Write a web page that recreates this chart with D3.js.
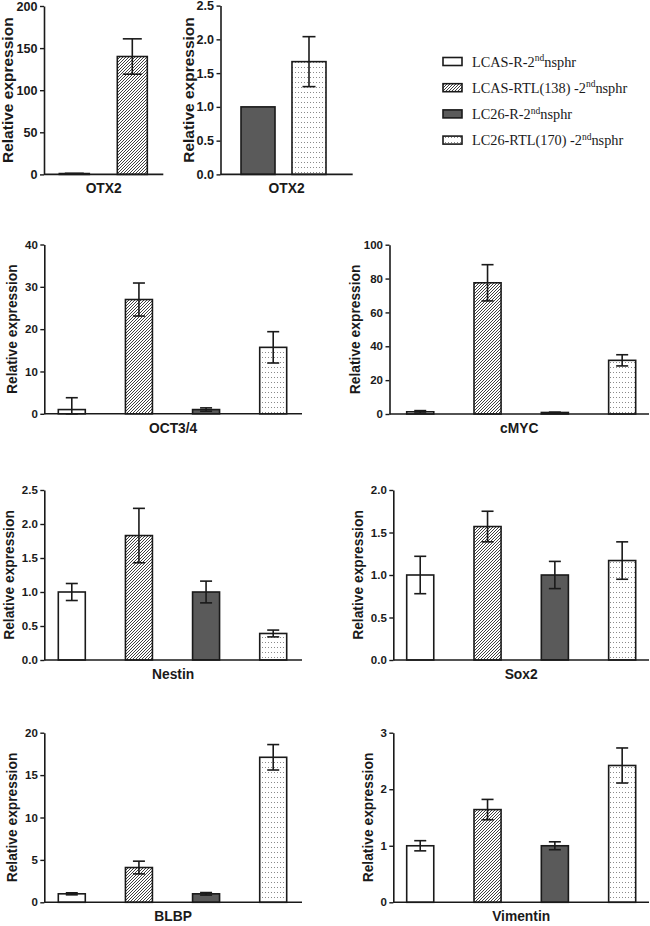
<!DOCTYPE html>
<html><head><meta charset="utf-8">
<script src="https://cdn.jsdelivr.net/npm/d3@7"></script>
<style>body{margin:0;background:#fff}svg{display:block}</style>
</head><body>
<script>
// ---- data ----
const groupPrefix = ["LCAS-R-2", "LCAS-RTL(138) -2", "LC26-R-2", "LC26-RTL(170) -2"];
const groupSup = "nd";
const groupSuffix = "nsphr";

const otx2AGroups = [0, 1];
const otx2AValues = [1.0, 140];
const otx2AErrors = [0.3, 21];

const otx2BGroups = [2, 3];
const otx2BValues = [1.0, 1.67];
const otx2BErrors = [0, 0.37];

const allGroups = [0, 1, 2, 3];
const oct34Values = [1.0, 27.0, 1.0, 15.7];
const oct34Errors = [2.8, 3.9, 0.4, 3.7];
const cmycValues = [1.3, 77.5, 0.9, 31.7];
const cmycErrors = [0.7, 10.7, 0.2, 3.3];
const nestinValues = [1.0, 1.83, 1.0, 0.39];
const nestinErrors = [0.125, 0.40, 0.16, 0.05];
const sox2Values = [1.0, 1.57, 1.0, 1.17];
const sox2Errors = [0.22, 0.18, 0.16, 0.22];
const blbpValues = [1.0, 4.1, 1.0, 17.1];
const blbpErrors = [0.12, 0.75, 0.15, 1.5];
const vimentinValues = [1.0, 1.64, 1.0, 2.42];
const vimentinErrors = [0.09, 0.18, 0.07, 0.31];

const otx2ATicks = [0, 50, 100, 150, 200];
const otx2BTicks = [0, 0.5, 1.0, 1.5, 2.0, 2.5];
const oct34Ticks = [0, 10, 20, 30, 40];
const cmycTicks = [0, 20, 40, 60, 80, 100];
const nestinTicks = [0, 0.5, 1.0, 1.5, 2.0, 2.5];
const sox2Ticks = [0, 0.5, 1.0, 1.5, 2.0];
const blbpTicks = [0, 5, 10, 15, 20];
const vimentinTicks = [0, 1, 2, 3];

// ---- layout ----
const panels = [
  {label:"OTX2", groups:otx2AGroups, values:otx2AValues, errors:otx2AErrors, ticks:otx2ATicks, fmt:"d",
   ax:44, axEnd:163.3, yb:174.4, yt:6, bx0:59.3, bx1:147.3, pad:0.483, cap:19, ylx:12.8, tickFs:12.6, ylFs:15.5},
  {label:"OTX2", groups:otx2BGroups, values:otx2BValues, errors:otx2BErrors, ticks:otx2BTicks, fmt:".1f",
   ax:220.5, axEnd:352.7, yb:174.4, yt:5.6, bx0:241, bx1:326, pad:0.333, cap:13, ylx:194.4, tickFs:12.6, ylFs:15.5},
  {label:"OCT3/4", groups:allGroups, values:oct34Values, errors:oct34Errors, ticks:oct34Ticks, fmt:"d",
   ax:44.3, axEnd:302, yb:413.8, yt:244.5, bx0:58.3, bx1:286.7, pad:0.598, cap:12, ylx:17.2, tickFs:11.5, ylFs:13.8},
  {label:"cMYC", groups:allGroups, values:cmycValues, errors:cmycErrors, ticks:cmycTicks, fmt:"d",
   ax:389.5, axEnd:649, yb:414, yt:244.7, bx0:406.7, bx1:635.7, pad:0.598, cap:12, ylx:360, tickFs:11.5, ylFs:13.8},
  {label:"Nestin", groups:allGroups, values:nestinValues, errors:nestinErrors, ticks:nestinTicks, fmt:".1f",
   ax:44.3, axEnd:302, yb:660, yt:490, bx0:58.3, bx1:286.7, pad:0.598, cap:12, ylx:14, tickFs:11.5, ylFs:13.8},
  {label:"Sox2", groups:allGroups, values:sox2Values, errors:sox2Errors, ticks:sox2Ticks, fmt:".1f",
   ax:393.3, axEnd:649, yb:660, yt:490, bx0:406.7, bx1:635.7, pad:0.598, cap:12, ylx:362.6, tickFs:11.5, ylFs:13.8},
  {label:"BLBP", groups:allGroups, values:blbpValues, errors:blbpErrors, ticks:blbpTicks, fmt:"d",
   ax:44.3, axEnd:302, yb:902.3, yt:732.7, bx0:58.3, bx1:286.7, pad:0.598, cap:12, ylx:17.2, tickFs:11.5, ylFs:13.8},
  {label:"Vimentin", groups:allGroups, values:vimentinValues, errors:vimentinErrors, ticks:vimentinTicks, fmt:"d",
   ax:393.3, axEnd:649, yb:902.3, yt:732.7, bx0:406.7, bx1:635.7, pad:0.598, cap:12, ylx:373, tickFs:11.5, ylFs:13.8}
];

const svg = d3.select("body").append("svg").attr("width", 650).attr("height", 926);
const defs = svg.append("defs");
const hatch = defs.append("pattern").attr("id", "hatch").attr("patternUnits", "userSpaceOnUse")
  .attr("width", 3).attr("height", 3);
hatch.append("rect").attr("width", 3).attr("height", 3).attr("fill", "#fff");
hatch.append("path").attr("d", "M-1,1 L1,-1 M0,3 L3,0 M2,4 L4,2").attr("stroke", "#2a2a2a").attr("stroke-width", 0.9);
const dots = defs.append("pattern").attr("id", "dots").attr("patternUnits", "userSpaceOnUse")
  .attr("width", 3).attr("height", 5);
dots.append("rect").attr("width", 3).attr("height", 5).attr("fill", "#fff");
dots.append("rect").attr("x", 1).attr("y", 2).attr("width", 1).attr("height", 1).attr("fill", "#8a8a8a");

const fills = ["#ffffff", "url(#hatch)", "#5a5a5a", "url(#dots)"];
const sans = "'Liberation Sans', Arial, sans-serif";

panels.forEach(p => {
  const g = svg.append("g");
  const y = d3.scaleLinear().domain([0, d3.max(p.ticks)]).range([p.yb, p.yt]);
  const x = d3.scaleBand().domain(p.groups).range([p.bx0, p.bx1]).paddingInner(p.pad).paddingOuter(0);
  const bw = x.bandwidth();
  const data = p.groups.map((gi, i) => ({gi, v: p.values[i], e: p.errors[i]}));

  g.selectAll("rect.bar").data(data).join("rect").attr("class", "bar")
    .attr("x", d => x(d.gi)).attr("y", d => y(d.v))
    .attr("width", bw).attr("height", d => y(0) - y(d.v))
    .attr("fill", d => fills[d.gi]).attr("stroke", "#1a1a1a").attr("stroke-width", 1.6);

  const eb = g.selectAll("g.err").data(data.filter(d => d.e > 0)).join("g").attr("class", "err")
    .attr("stroke", "#1a1a1a").attr("stroke-width", 1.6);
  eb.append("line").attr("x1", d => x(d.gi) + bw / 2).attr("x2", d => x(d.gi) + bw / 2)
    .attr("y1", d => y(d.v + d.e)).attr("y2", d => y(Math.max(0, d.v - d.e)));
  eb.append("line").attr("x1", d => x(d.gi) + bw / 2 - p.cap / 2).attr("x2", d => x(d.gi) + bw / 2 + p.cap / 2)
    .attr("y1", d => y(d.v + d.e)).attr("y2", d => y(d.v + d.e));
  eb.append("line").attr("x1", d => x(d.gi) + bw / 2 - p.cap / 2).attr("x2", d => x(d.gi) + bw / 2 + p.cap / 2)
    .attr("y1", d => y(Math.max(0, d.v - d.e))).attr("y2", d => y(Math.max(0, d.v - d.e)));

  // x axis baseline
  g.append("line").attr("x1", p.ax).attr("x2", p.axEnd).attr("y1", y(0)).attr("y2", y(0))
    .attr("stroke", "#1a1a1a").attr("stroke-width", 1.6);

  const yAxis = g.append("g").attr("transform", `translate(${p.ax},0)`)
    .call(d3.axisLeft(y).tickValues(p.ticks).tickFormat(d3.format(p.fmt)).tickSize(4).tickSizeOuter(0).tickPadding(2.5));
  yAxis.select(".domain").attr("stroke", "#1a1a1a").attr("stroke-width", 1.6);
  yAxis.selectAll(".tick line").attr("stroke", "#1a1a1a").attr("stroke-width", 1.4);
  yAxis.selectAll(".tick text").attr("fill", "#1a1a1a").style("font-family", sans)
    .style("font-weight", "bold").style("font-size", p.tickFs + "px");

  g.append("text").attr("x", (p.ax + p.axEnd) / 2).attr("y", y(0) + 19)
    .attr("text-anchor", "middle").style("font-family", sans).style("font-weight", "bold")
    .style("font-size", "13.8px").attr("fill", "#1a1a1a").text(p.label);

  g.append("text").attr("transform", `translate(${p.ylx},${(p.yb + p.yt) / 2}) rotate(-90)`)
    .attr("text-anchor", "middle").style("font-family", sans).style("font-weight", "bold")
    .style("font-size", p.ylFs + "px").attr("fill", "#1a1a1a").text("Relative expression");
});

// legend
const legend = svg.append("g");
groupPrefix.forEach((pre, i) => {
  const by = 66.7 + i * 26.2;
  legend.append("rect").attr("x", 443).attr("y", by - 9.2).attr("width", 19).attr("height", 8)
    .attr("fill", fills[i]).attr("stroke", "#1a1a1a").attr("stroke-width", 1.6);
  const t = legend.append("text").attr("x", 472).attr("y", by)
    .style("font-family", "'Liberation Serif', 'Times New Roman', serif").style("font-size", "14.3px").attr("fill", "#1a1a1a");
  t.append("tspan").text(pre);
  t.append("tspan").attr("dy", -5.5).style("font-size", "9.5px").text(groupSup);
  t.append("tspan").attr("dy", 5.5).text(groupSuffix);
});
</script>
</body></html>
